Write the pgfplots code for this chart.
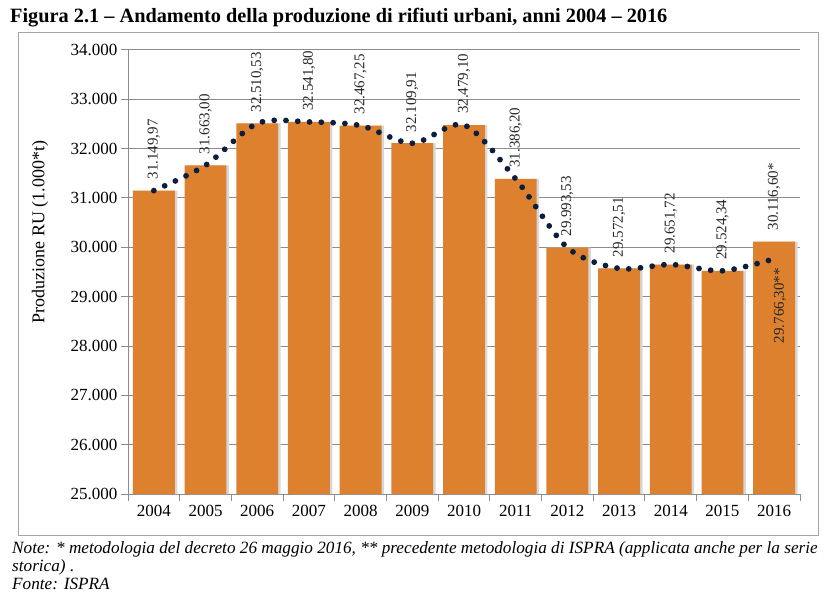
\documentclass[border=0pt]{standalone}
\usepackage{fontspec}
\setmainfont{Liberation Serif}
\usepackage{pgfplots}
\usepackage{pgfplotstable}
\pgfplotsset{compat=1.18}
\definecolor{barorange}{RGB}{222,129,47}
\definecolor{barshadow}{RGB}{215,215,215}
\definecolor{dotnavy}{RGB}{12,30,62}
\definecolor{gridgray}{RGB}{140,140,140}
\definecolor{framegray}{RGB}{165,165,165}
\definecolor{labelgray}{RGB}{40,40,40}

\pgfplotstableread[col sep=comma]{
x,y,label
0,31149.97,{31.149,97}
1,31663.00,{31.663,00}
2,32510.53,{32.510,53}
3,32541.80,{32.541,80}
4,32467.25,{32.467,25}
5,32109.91,{32.109,91}
6,32479.10,{32.479,10}
7,31386.20,{31.386,20}
8,29993.53,{29.993,53}
9,29572.51,{29.572,51}
10,29651.72,{29.651,72}
11,29524.34,{29.524,34}
12,30116.60,{30.116,60*}
}\bardata

\pgfplotstableread[col sep=comma]{
x,y
0,31149.97
1,31663.00
2,32510.53
3,32541.80
4,32467.25
5,32109.91
6,32479.10
7,31386.20
8,29993.53
9,29572.51
10,29651.72
11,29524.34
12,29766.30
}\linedata

\begin{document}
\begin{tikzpicture}
\useasboundingbox (0pt,0pt) rectangle (829pt,600pt);
\draw[framegray, line width=1pt] (18pt,65pt) rectangle (818pt,567pt);
\node[anchor=base west, font=\bfseries\fontsize{20.3}{24}\selectfont, inner sep=0pt] at (10pt,577pt) {Figura 2.1 – Andamento della produzione di rifiuti urbani, anni 2004 – 2016};
\node[anchor=base west, font=\itshape\fontsize{17.2}{20}\selectfont, inner sep=0pt] at (12pt,47pt) {Note: * metodologia del decreto 26 maggio 2016, ** precedente metodologia di ISPRA (applicata anche per la serie};
\node[anchor=base west, font=\itshape\fontsize{17.2}{20}\selectfont, inner sep=0pt] at (12pt,29pt) {storica) .};
\node[anchor=base west, font=\itshape\fontsize{17.2}{20}\selectfont, inner sep=0pt] at (12pt,11pt) {Fonte: ISPRA};
\begin{axis}[
  at={(128pt,106pt)}, anchor=south west,
  scale only axis, width=672pt, height=444pt,
  xmin=-0.5, xmax=12.5, ymin=25000, ymax=34000,
  axis x line*=bottom, axis y line*=left,
  axis line style={gridgray, line width=1pt},
  ymajorgrids, grid style={gridgray, line width=1pt},
  ytick={25000,26000,...,34000},
  scaled y ticks=false,
  /pgf/number format/assume math mode=true,
  yticklabel style={/pgf/number format/1000 sep={.}, font=\fontsize{17}{20}\selectfont, text=black},
  tick align=outside, major tick length=7pt,
  tick style={gridgray, line width=1pt},
  xtick={-0.5,0.5,...,12.5}, xticklabels={},
  extra x ticks={0,1,...,12},
  extra x tick labels={2004,2005,2006,2007,2008,2009,2010,2011,2012,2013,2014,2015,2016},
  extra x tick style={major tick length=0pt, tick label style={font=\fontsize{17}{20}\selectfont, text=black, yshift=-8pt}},
  ylabel={Produzione RU (1.000*t)},
  every axis y label/.style={at={(axis description cs:0,0.59)}, xshift=-88pt, rotate=90, anchor=center, font=\fontsize{18}{21}\selectfont},
  clip=false,
]
\addplot[ybar, bar width=0.81, bar shift=2.5pt, fill=barshadow, draw=none] table[x=x,y=y] {\bardata};
\addplot[ybar, bar width=0.81, fill=barorange, draw=none,
  nodes near coords={\pgfplotspointmeta}, point meta=explicit symbolic,
  every node near coord/.style={yshift=11pt, rotate=90, anchor=west, inner sep=0pt, font=\fontsize{15}{18}\selectfont, text=labelgray}
] table[x=x,y=y,meta=label] {\bardata};
\addplot[smooth, dotnavy, line width=5.8pt, line cap=round, dash pattern=on 0pt off 11.8pt] table[x=x,y=y] {\linedata};
\addplot[draw=none, mark=none,
  nodes near coords={\pgfplotspointmeta}, point meta=explicit symbolic,
  every node near coord/.style={yshift=-9pt, xshift=6pt, rotate=90, anchor=east, inner sep=0pt, font=\fontsize{15}{18}\selectfont, text=labelgray}
] coordinates {(12,29766.30) [{29.766,30**}]};
\end{axis}
\end{tikzpicture}
\end{document}
